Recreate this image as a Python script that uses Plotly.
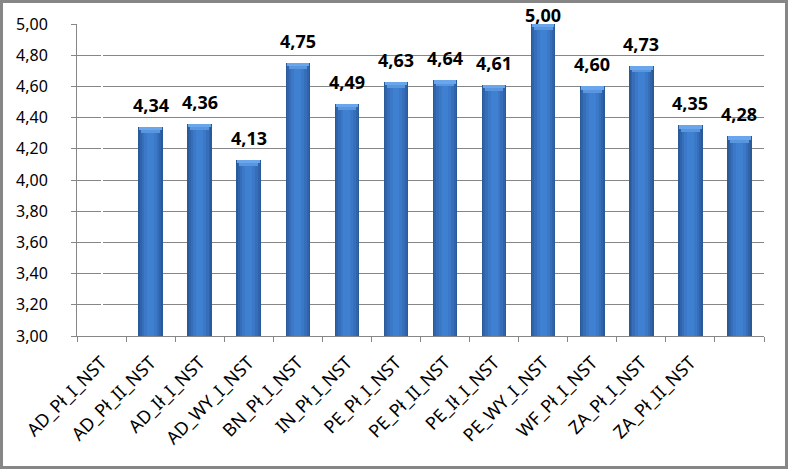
import plotly.graph_objects as go

categories = ["AD_Pł_I_NST", "AD_Pł_II_NST", "AD_Ił_I_NST", "AD_WY_I_NST", "BN_Pł_I_NST",
              "IN_Pł_I_NST", "PE_Pł_I_NST", "PE_Pł_II_NST", "PE_Ił_I_NST", "PE_WY_I_NST",
              "WF_Pł_I_NST", "ZA_Pł_I_NST", "ZA_Pł_II_NST", ""]
values = [None, 4.34, 4.36, 4.13, 4.75, 4.49, 4.63, 4.64, 4.61, 5.00, 4.60, 4.73, 4.35, 4.28]
y_ticks = [3.0, 3.2, 3.4, 3.6, 3.8, 4.0, 4.2, 4.4, 4.6, 4.8, 5.0]
Y_MIN, Y_MAX = 3.0, 5.0

W, H = 788, 469
ML, MR, MT, MB = 77, 24, 24, 133
FONT = "Noto Sans"

x = list(range(len(categories)))
fig = go.Figure()

# layered bars to mimic the cylinder-like horizontal gradient
layers = [(0.50, "#2b5a98"), (0.44, "#3064aa"), (0.36, "#366eba"), (0.26, "#3b78c7"), (0.14, "#4080d1")]
for w, c in layers:
    fig.add_trace(go.Bar(x=x, y=[v - Y_MIN if v is not None else None for v in values], base=Y_MIN,
                         width=w, marker=dict(color=c, line=dict(width=0)),
                         hoverinfo="skip", showlegend=False))

# top bevel highlight
bevel = [(0.46, 0.022, 0.0, "#6aa6ec"), (0.38, 0.018, 0.022, "#5a96e0")]
for w, h, off, c in bevel:
    fig.add_trace(go.Bar(x=x, y=[h if v is not None else None for v in values],
                         base=[v - off - h if v is not None else None for v in values],
                         width=w, marker=dict(color=c, line=dict(width=0)),
                         hoverinfo="skip", showlegend=False))

# data labels
for xi, v in zip(x, values):
    if v is None:
        continue
    fig.add_annotation(x=xi, y=v, text=("%.2f" % v).replace(".", ","), showarrow=False,
                       yanchor="bottom", yshift=(-5 if v >= Y_MAX else 8),
                       font=dict(family=FONT, size=18, color="#000000", weight="bold"))

# boundary tick marks on overlay axis
bounds = [i - 0.5 for i in range(len(categories) + 1)]
fig.add_trace(go.Scatter(x=[bounds[0], bounds[-1]], y=[Y_MIN, Y_MIN], mode="markers",
                         marker=dict(opacity=0), xaxis="x2", showlegend=False, hoverinfo="skip"))

fig.update_layout(
    width=W, height=H,
    margin=dict(l=ML, r=MR, t=MT, b=MB),
    paper_bgcolor="white", plot_bgcolor="white",
    barmode="overlay", bargap=0,
    separators=", ",
    xaxis=dict(range=[-0.5, len(categories) - 0.5], tickvals=x, ticktext=categories,
               tickangle=-45, ticks="", showgrid=False, showline=True,
               linecolor="#868686", linewidth=1, ticklabelstandoff=8,
               tickfont=dict(family=FONT, size=18, color="#000000"), fixedrange=True),
    xaxis2=dict(range=[-0.5, len(categories) - 0.5], overlaying="x", tickvals=bounds,
                ticktext=[""] * len(bounds), ticks="outside", ticklen=5, tickcolor="#868686",
                showgrid=False, showline=False, side="bottom", anchor="y"),
    yaxis=dict(range=[Y_MIN, Y_MAX], tickvals=y_ticks, tickformat=".2f", showgrid=True,
               gridcolor="#868686", gridwidth=1, showline=True, linecolor="#868686",
               ticks="outside", ticklen=5, tickcolor="#868686", zeroline=False,
               ticklabelstandoff=20,
               tickfont=dict(family=FONT, size=16, color="#000000")),
    shapes=[dict(type="rect", xref="paper", yref="paper",
                 x0=-(ML - 1.5) / (W - ML - MR), x1=1 + (MR - 1.5) / (W - ML - MR),
                 y0=-(MB - 1.5) / (H - MT - MB), y1=1 + (MT - 1.5) / (H - MT - MB),
                 line=dict(color="#868686", width=3), layer="above")],
)

fig.write_html("out.html")
